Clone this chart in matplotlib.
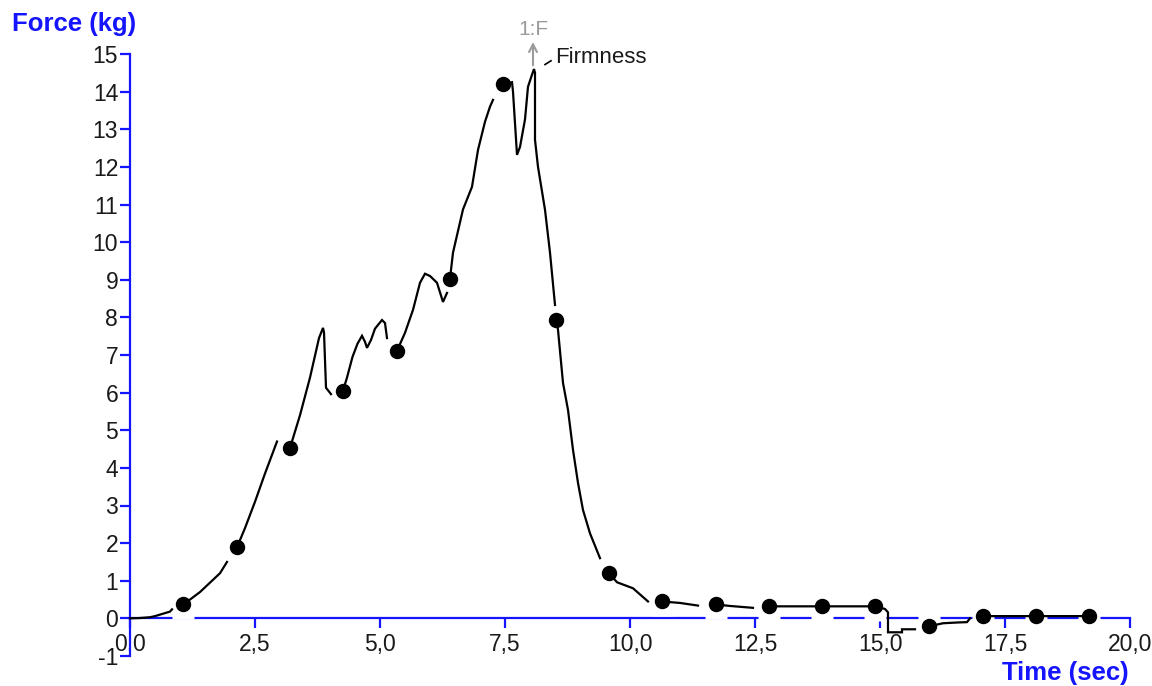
import numpy as np
import matplotlib
matplotlib.use("Agg")
import matplotlib.pyplot as plt
from matplotlib.ticker import FixedLocator, FuncFormatter

plt.rcParams['font.family'] = ['Liberation Sans', 'DejaVu Sans']

# ---- data ----
# curve, segments separated by None
curve_time = [0.0, 0.2, 0.4, 0.5, 0.6, 0.7, 0.8, 0.84, None,
              1.06, 1.2, 1.4, 1.6, 1.8, 1.94, None,
              2.14, 2.3, 2.5, 2.7, 2.94, None,
              3.2, 3.4, 3.6, 3.78, 3.86, 3.88, 3.92, 4.02, None,
              4.26, 4.34, 4.45, 4.55, 4.64, 4.7, 4.74, 4.82, 4.9, 5.04, 5.1, 5.14, None,
              5.34, 5.5, 5.66, 5.8, 5.9, 6.0, 6.14, 6.26, 6.34, None,
              6.4, 6.46, 6.66, 6.84, 6.96, 7.1, 7.2, 7.26, None,
              7.46, 7.64, 7.66, 7.74, 7.8, 7.9, 7.96, 8.04, 8.08, 8.1, 8.1, 8.16, 8.3, 8.4, 8.5, None,
              8.52, 8.56, 8.66, 8.76, 8.86, 8.96, 9.06, 9.2, 9.4, None,
              9.58, 9.74, 10.06, 10.36, None,
              10.64, 11.0, 11.36, None,
              11.72, 12.0, 12.46, None,
              12.78, 13.84, 14.9, 15.1, 15.16, 15.16, 15.44, 15.44, 15.7, None,
              15.98, 16.26, 16.54, 16.74, 16.8, None,
              17.06, 18.12, 19.18]
curve_force = [0.0, 0.01, 0.03, 0.06, 0.1, 0.14, 0.18, 0.24, None,
               0.37, 0.5, 0.7, 0.95, 1.2, 1.5, None,
               1.89, 2.4, 3.1, 3.85, 4.7, None,
               4.53, 5.4, 6.4, 7.45, 7.72, 7.6, 6.13, 5.96, None,
               6.05, 6.4, 6.95, 7.3, 7.51, 7.35, 7.19, 7.4, 7.7, 7.93, 7.85, 7.45, None,
               7.11, 7.59, 8.2, 8.92, 9.16, 9.1, 8.92, 8.41, 8.65, None,
               9.03, 9.72, 10.87, 11.47, 12.45, 13.2, 13.6, 13.78, None,
               14.19, 14.25, 14.0, 12.32, 12.53, 13.26, 14.13, 14.45, 14.6, 14.5, 12.72, 12.0, 10.86, 9.72, 8.33, None,
               7.94, 7.67, 6.26, 5.54, 4.48, 3.6, 2.88, 2.26, 1.6, None,
               1.2, 0.96, 0.8, 0.45, None,
               0.45, 0.41, 0.34, None,
               0.37, 0.33, 0.28, None,
               0.32, 0.32, 0.32, 0.25, 0.16, -0.37, -0.37, -0.29, -0.29, None,
               -0.21, -0.13, -0.11, -0.1, 0.0, None,
               0.06, 0.06, 0.06]

marker_time = [1.06, 2.14, 3.2, 4.26, 5.34, 6.4, 7.46, 8.52, 9.58, 10.64,
               11.72, 12.78, 13.84, 14.9, 15.98, 17.06, 18.12, 19.18]
marker_force = [0.37, 1.89, 4.53, 6.05, 7.11, 9.03, 14.19, 7.94, 1.2, 0.45,
                0.37, 0.32, 0.32, 0.32, -0.21, 0.06, 0.06, 0.06]

x_ticks = [0.0, 2.5, 5.0, 7.5, 10.0, 12.5, 15.0, 17.5, 20.0]
y_ticks = list(range(-1, 16))

peak_time = 8.06
peak_label = "Firmness"
peak_tag = "1:F"

# ---- figure ----
W, H, DPI = 1152, 686, 100
fig = plt.figure(figsize=(W / DPI, H / DPI), dpi=DPI)
ax = fig.add_axes([130 / W, 1 - 656 / H, 1000 / W, (656 - 54) / H])

blue = '#1414ff'
txtc = '#1a1a1a'

ct = np.array([np.nan if v is None else v for v in curve_time], float)
cf = np.array([np.nan if v is None else v for v in curve_force], float)

# white boxes behind markers (hide the axis line like the original)
box = [(-0.73, -1), (0.73, -1), (0.73, 1), (-0.73, 1), (-0.73, -1)]
ax.plot(marker_time, marker_force, linestyle='none', marker=box,
        markersize=30 * 72 / DPI, markerfacecolor='white', markeredgecolor='none',
        zorder=2.6, clip_on=False)

ax.plot(ct, cf, color='black', lw=1.6, zorder=3, clip_on=False,
        solid_joinstyle='miter')
ax.plot(marker_time, marker_force, linestyle='none', marker='o',
        markersize=14 * 72 / DPI, color='black', zorder=4, clip_on=False)

ax.set_xlim(0, 20)
ax.set_ylim(-1, 15)

for s in ['top', 'right']:
    ax.spines[s].set_visible(False)
ax.spines['bottom'].set_position(('data', 0))
for s in ['left', 'bottom']:
    ax.spines[s].set_color(blue)
    ax.spines[s].set_linewidth(1.6)

ax.xaxis.set_major_locator(FixedLocator(x_ticks))
ax.yaxis.set_major_locator(FixedLocator(y_ticks))
ax.xaxis.set_major_formatter(FuncFormatter(lambda v, p: f"{v:.1f}".replace('.', ',')))
ax.yaxis.set_major_formatter(FuncFormatter(lambda v, p: f"{int(round(v))}"))
ax.tick_params(axis='x', direction='out', length=7.5, width=1.6, color=blue,
               labelsize=16.5, labelcolor=txtc, pad=3)
ax.tick_params(axis='y', direction='out', length=7.5, width=1.6, color=blue,
               labelsize=16.5, labelcolor=txtc, pad=1)
ax.patch.set_visible(False)

# axis titles
fig.text(12 / W, 1 - 24 / H, "Force (kg)", ha='left', va='center',
         fontsize=18.5, fontweight='bold', color=blue)
fig.text(1129 / W, 1 - 673 / H, "Time (sec)", ha='right', va='center',
         fontsize=18.5, fontweight='bold', color=blue)

# peak annotation
ax.annotate("", xy=(peak_time, 15.32), xytext=(peak_time, 14.7),
            arrowprops=dict(arrowstyle='->', color='#9a9a9a', lw=1.5,
                            mutation_scale=14, shrinkA=0, shrinkB=0),
            annotation_clip=False)
ax.text(peak_time, 15.66, peak_tag, ha='center', va='center', fontsize=15,
        color='#9a9a9a', clip_on=False)
ax.plot([8.3, 8.42], [14.72, 14.82], color='black', lw=1.2, clip_on=False)
ax.text(8.5, 14.9, peak_label, ha='left', va='center', fontsize=16,
        color=txtc, clip_on=False)

fig.savefig('out.png', dpi=DPI)
